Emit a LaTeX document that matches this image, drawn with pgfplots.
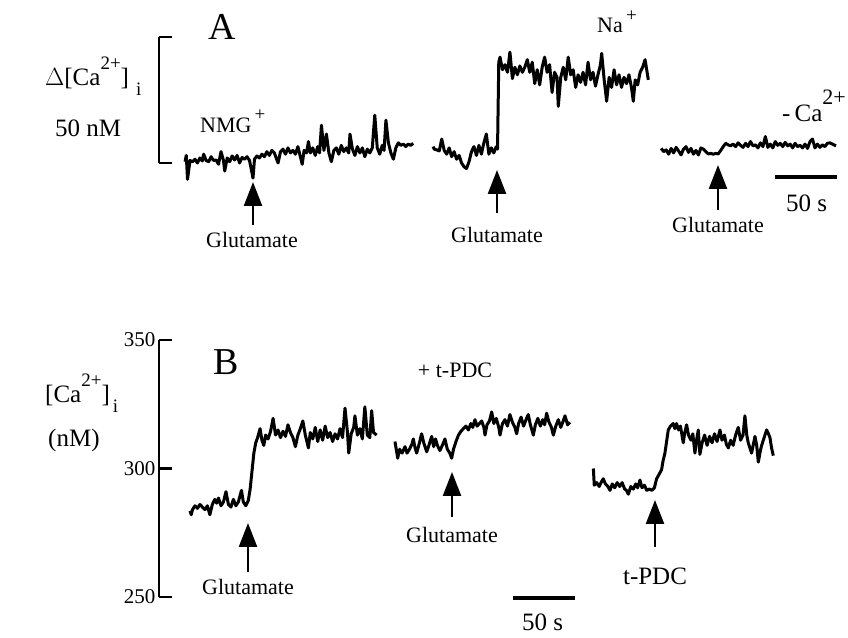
\documentclass[border=0pt]{standalone}
\usepackage{fontspec}
\setmainfont{Liberation Serif}
\usepackage{pgfplots}
\pgfplotsset{compat=1.18}
\usetikzlibrary{arrows.meta}

\newcommand\lab{\fontsize{22}{26}\selectfont}
\newcommand\sml{\fontsize{19}{21}\selectfont}
\newcommand\biglab{\fontsize{25}{28}\selectfont}

\pgfplotsset{
  trace/.style={black, line width=3pt, line join=round, no markers},
  panel/.style={
    anchor=south west, x=1.24pt, xmin=0, xmax=555, clip=false,
    axis x line=none, axis y line*=left, xtick=\empty,
    tick align=inside, major tick length=13pt,
    every tick/.style={black, line width=2.2pt},
    axis line style={black, line width=2.2pt},
  },
}

\begin{document}
\begin{tikzpicture}
\useasboundingbox (0,0) rectangle (848pt,637pt);

% ---------------- panel A (change of [Ca2+]i, nM) ----------------
\begin{axis}[panel, at={(159pt,474pt)}, y=2.52pt, ymin=0, ymax=50,
    ytick={0,50}, yticklabels={,}]
% NMG+
\addplot[trace] coordinates {
(21,0.5)(22,3)(23,-6.5)(25,1)(27,0.5)(29,1.5)(31,0)(33,2)(35,0.8)(36,3.5)
(38,1)(40,0.5)(42,2.5)(44,1)(46,1.2)(48,-0.5)(50,4.5)(52,1)(53,-3.2)(55,2)
(57,0.5)(59,2.8)(61,1.2)(63,3)(65,0)(67,2.2)(69,1.5)(71,2.5)(73,1)(75.8,-6)
(77,1.5)(79,2.8)(81,2)(83,3.5)(85,2.5)(87,4.5)(89,3)(91,5)(93,4)(96,0)
(98,4.5)(100,5.5)(102,3.5)(104,6)(106,4)(108,5)(110,3.5)(112,6.5)(114,2.5)
(115.5,-0.5)(117,5)(119,4)(120.5,8.5)(122,4)(124,6)(126,3)(128,6.5)(129.5,4)
(131,15)(133,5)(135,11.5)(137,4)(139,0.5)(141,5)(143,6)(145,3.5)(147,7)
(149,4.5)(151,6)(153,4)(154,11.5)(156,5.5)(158,3)(160,6.5)(162,4)(164,6)
(166,2.5)(168,5.5)(170,4)(172,6)(174,19)(176,6)(178,3.5)(180,7)(181.5,5)
(183,17)(185,8)(187,4)(189,1.5)(191,6)(193,8)(195,7)(197,7.5)(199,6.5)
(201,7.5)(203,7)(205,7.8)
};
% Na+
\addplot[trace] coordinates {
(221,6.5)(222,5.5)(224,5.2)(226,4.8)(228,9.5)(230,5)(232,3.5)(234,6)(236,2.5)
(238,4.5)(240,1.5)(242,3)(244,0)(246,-1.5)(248,-2.2)(250,0.5)(252,4.5)
(254,6.5)(256,3)(258,7)(260,3.5)(262,8)(264,11.5)(266,3.5)(268,6)(270,4)
(272,6.5)(273,5.5)(274,40)(275,42)(277,37)(279,39)(281,36)(283,44)(285,33.5)
(287,38)(289,35)(291,38.5)(293,36)(295,38)(297,41)(299,36)(301,40)(303,31.5)
(305,37)(307,31)(309,38)(311,42)(313,36)(315,39)(317,28)(319,36)(321,34)
(322,22.5)(324,34)(326,38)(328,33)(330,42)(332,35)(334,37)(336,30)(338,35)
(340,32)(342,36)(344,31)(346,40)(348,33)(350,36)(352,30.5)(354,35)(356,39)
(357,43.5)(359,33)(361,24.5)(363,34)(365,30)(367,37)(369,31)(371,35)(373,30)
(375,34)(377,31.5)(379,35)(381,30)(382.5,24.5)(384,33)(386,31)(388,36)
(390,38)(392,41)(394.6,33)
};
% -Ca2+
\addplot[trace] coordinates {
(405,5.8)(407,4.5)(409,5.2)(411,3.5)(413,5.8)(415,4)(417,6.2)(419,4.8)
(421,3.2)(423,5.5)(425,6.5)(427,4.2)(429,5.8)(431,3.5)(433,5)(435,3.2)(437,6)
(439,5.5)(441,4.5)(443,3.6)(445,3.8)(447,3.5)(449,3.8)(451,3.6)(453,5)
(455,6.5)(457,7.8)(459,7.2)(461,6.8)(463,7.5)(465,6.5)(467,8)(469,7)(471,6.2)
(473,7.8)(475,6.5)(477,8.5)(479,6.8)(481,7.2)(483,6)(485,8)(487,6.5)(489,10.5)
(491,6.2)(493,7.5)(495,6)(497,8.5)(499,7)(501,7.8)(503,6.5)(505,8.2)(507,6.8)
(509,7.5)(511,6)(513,7.8)(515,6.5)(517,7)(519,6)(521,7.5)(523,5.8)(525,8.5)
(527,9.5)(529,6)(531,7.5)(533,6.2)(535,7.2)(537,6.5)(539,7.8)(541,8)(543,7.5)
(546,6.8)
};
% 50 s scale bar
\addplot[black, line width=4.5pt, no markers] coordinates {(497,-5.6)(547,-5.6)};
\end{axis}

% ---------------- panel B ([Ca2+]i, nM) ----------------
\begin{axis}[panel, at={(159pt,40pt)}, y=2.57pt, ymin=250, ymax=350,
    ytick={250,300,350},
    /pgf/number format/assume math mode=true,
    yticklabel style={font=\fontsize{21}{24}\selectfont}]
\addplot[trace] coordinates {
(25,283.5)(26,282)(27,284)(29,285.5)(31,284.5)(33,286)(35,285)(37,284)
(39,285.5)(41,282)(43,286)(45,288)(46.5,286.5)(48,288.5)(50,285.5)(52,287)
(54,291)(56,286)(58,285)(60,288)(62,285.5)(64,287)(66.5,291.5)(68,287)
(70,285.5)(72,287.5)(73.5,292)(75,299)(76.5,306)(78,310)(79.5,312)(81.5,315.5)
(83,311)(84.5,309)(86,313)(88,311.5)(90,314.5)(92,319.5)(94,313)(96,315)
(98,312)(100,314.5)(102,312.5)(104,317)(106,314)(108,312)(110,308.5)(112,313)
(114,315.5)(116,318.5)(118,313)(120.5,308)(122,314)(124,311.5)(126,316)
(128,310.5)(130,315)(132,311)(134,316.5)(136,312)(138,314)(140,310.5)
(142,313.5)(144,311.5)(146,315.5)(148,312)(150,323.5)(152,314)(153,306)
(155,313.5)(157,316)(158,320.5)(160,313)(162,315.5)(164,311.5)(166,324)
(168,313)(170,312)(171.5,322.5)(173,314)(175.5,313)
};
\addplot[trace] coordinates {
(190.3,310.5)(191.5,307)(192.5,304)(194,307.5)(196,306)(198.4,308.5)(200,306)
(202,307.5)(204,309.5)(205.1,311.5)(206.5,308)(207.8,306)(209.5,309)
(211.8,313.5)(213.5,310)(215.9,306.5)(218,309.5)(219.9,312.5)(221.5,308.5)
(223,311.5)(224.5,309)(226.5,307)(228.5,309)(230.6,311.5)(232.5,307.5)
(234.5,306)(236,304)(237.5,307.5)(239.5,310.5)(241.5,313)(243.5,314.5)
(245.5,315.5)(247.5,316.5)(249.5,315)(251.5,317.5)(253,316)(254.8,319)
(256.5,316.5)(258.5,317.5)(260.2,318.5)(262,316)(262.9,313)(264.5,317)
(266.5,318.5)(268.3,322)(270,317.5)(272,319.5)(274,316)(275,313)(277,317.5)
(279,319)(281,316.5)(283,321)(285,318)(287,316)(288.4,313.5)(290,317.5)
(292,320)(294,316.5)(296,319)(297.8,321)(299.5,317)(301.9,313)(303.5,317)
(305.5,319.5)(307.5,316.5)(309.5,319)(311,317)(312.6,321.5)(314.5,318)
(316.5,316)(318,313)(320,316.5)(322,319)(324,316)(326,318.5)(327.4,320.5)
(329.5,317)(331.4,318)
};
\addplot[trace] coordinates {
(350.3,300)(351,293.5)(353,294.5)(355,293)(357,295)(358.3,296)(360,294)
(362,293)(363.7,291.5)(365.5,294)(367.5,292.5)(369.5,294.5)(371.5,293)
(373.5,294.5)(375.5,292)(377,291.5)(378.5,290)(380.5,293)(382.5,292)
(384.5,294)(386,292.5)(387.9,295.5)(389.5,292.5)(391.5,293.5)(393.3,291.5)
(395.5,292)(397.5,291.5)(399.5,292.5)(401.3,296)(403,297.5)(405.3,299.5)
(406.5,303)(408,306)(409.5,311)(410.7,315)(412.5,316.5)(414.7,317.5)(416,315.5)
(417.4,317.5)(419,315)(420.5,316.5)(422.8,310)(424,314)(425.5,317)(427,313)
(429,311)(430.5,313.5)(432.2,306)(433.5,311)(434.9,315)(436.2,305.5)(438,310)
(440,313)(442,309)(444,312.5)(446,310)(448,313.5)(450,310.5)(452.4,315)
(454,311)(456,313)(457.5,309.5)(459.1,308)(461,311)(463,309)(465,313)
(467.1,316)(469,311)(471,313)(472.5,320.5)(474,313)(475.2,310)(477.9,306)
(480.6,312.5)(482,309)(483.3,302.5)(485,307)(486,309)(488,312)(490,315)
(491.5,313.5)(492.7,312)(494,308)(495.4,305)
};
% 50 s scale bar
\addplot[black, line width=4.5pt, no markers] coordinates {(285.5,249.6)(335.5,249.6)};
\end{axis}

% ---------------- labels ----------------
\node[anchor=base, font=\fontsize{38}{42}\selectfont] at (222.5pt,597pt) {A};
\node[anchor=base, font=\fontsize{38}{42}\selectfont] at (226pt,262pt) {B};

\node[anchor=base west, font=\biglab, inner sep=0pt] at (45pt,551pt)
  {$\Delta$[Ca\raisebox{0.65em}{\sml 2+}]\hspace{7pt}\raisebox{-0.4em}{\sml i}};
\node[anchor=base west, font=\biglab, inner sep=0pt] at (55pt,500pt) {50 nM};

\node[anchor=base west, font=\biglab, inner sep=0pt] at (45pt,234pt)
  {[Ca\raisebox{0.65em}{\sml 2+}]\hspace{3pt}\raisebox{-0.4em}{\sml i}};
\node[anchor=base west, font=\biglab, inner sep=0pt] at (48pt,190pt) {(nM)};

\node[anchor=base west, font=\lab, inner sep=0pt] at (200pt,504pt)
  {NMG\raisebox{0.55em}{\sml\,+}};
\node[anchor=base west, font=\lab, inner sep=0pt] at (597pt,604pt)
  {Na\raisebox{0.5em}{\sml\,+}};
\node[anchor=base west, font=\biglab, inner sep=0pt] at (782pt,515pt)
  {-\,Ca\raisebox{0.7em}{\lab 2+}};
\node[anchor=base, font=\lab, inner sep=0pt] at (455pt,259pt) {+ t-PDC};

\node[anchor=base, font=\lab, inner sep=0pt] at (252pt,389pt) {Glutamate};
\node[anchor=base, font=\lab, inner sep=0pt] at (497pt,394pt) {Glutamate};
\node[anchor=base, font=\lab, inner sep=0pt] at (718pt,404pt) {Glutamate};
\node[anchor=base, font=\lab, inner sep=0pt] at (248pt,43pt) {Glutamate};
\node[anchor=base, font=\lab, inner sep=0pt] at (452pt,95pt) {Glutamate};
\node[anchor=base, font=\biglab, inner sep=0pt] at (655pt,53pt) {t-PDC};

\node[anchor=base, font=\biglab, inner sep=0pt] at (806.5pt,425pt) {50 s};
\node[anchor=base, font=\biglab, inner sep=0pt] at (542.5pt,7pt) {50 s};

% arrows
\tikzset{glu/.style={line width=2.4pt, -{Triangle[width=18pt,length=24pt]}}}
\draw[glu] (253pt,412pt) -- (253pt,455pt);
\draw[glu] (497pt,424pt) -- (497pt,467pt);
\draw[glu] (718pt,427pt) -- (718pt,472pt);
\draw[glu] (248pt,65pt) -- (248pt,114pt);
\draw[glu] (452pt,120pt) -- (452pt,165pt);
\draw[glu] (655pt,90pt) -- (655pt,137pt);
\end{tikzpicture}
\end{document}
